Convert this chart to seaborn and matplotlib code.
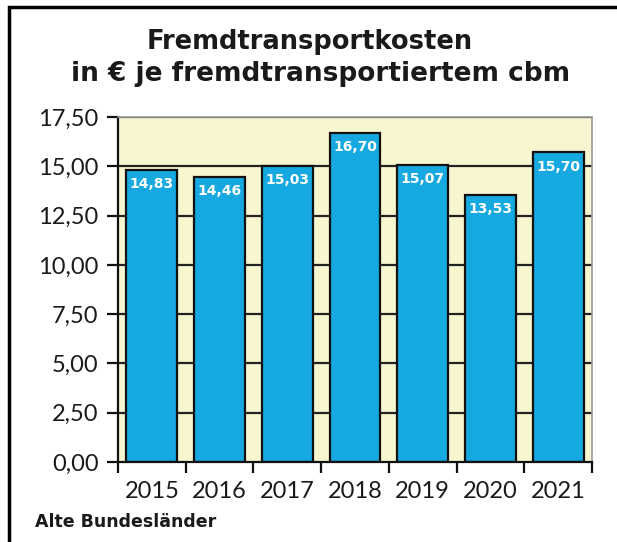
import matplotlib
matplotlib.use("Agg")
import matplotlib.pyplot as plt
import seaborn as sns
import pandas as pd
from matplotlib.patches import Rectangle

years = ["2015", "2016", "2017", "2018", "2019", "2020", "2021"]
values = [14.83, 14.46, 15.03, 16.70, 15.07, 13.53, 15.70]
value_labels = ["14,83", "14,46", "15,03", "16,70", "15,07", "13,53", "15,70"]
yticks = [0, 2.5, 5, 7.5, 10, 12.5, 15, 17.5]
ytick_labels = ["0,00", "2,50", "5,00", "7,50", "10,00", "12,50", "15,00", "17,50"]
title_lines = ["Fremdtransportkosten", "in € je fremdtransportiertem cbm"]
footnote = "Alte Bundesländer"

sns.set_theme(style="white")
plt.rcParams["font.family"] = ["Lato", "DejaVu Sans"]
bold_family = ["DejaVu Sans"]

df = pd.DataFrame({"year": years, "value": values})

fig = plt.figure(figsize=(6.17, 5.42), dpi=100)
ax = fig.add_axes([118/617, 80/542, (592-118)/617, (462-117)/542])
ax.set_facecolor("#F8F6CF")

for y in yticks[1:]:
    ax.axhline(y, color="#222222", lw=1.6, zorder=0.5)

sns.barplot(data=df, x="year", y="value", color="#16A8E0", saturation=1,
            width=0.75, edgecolor="#111111", linewidth=1.6, ax=ax, zorder=2)

for i, (v, lab) in enumerate(zip(values, value_labels)):
    ax.text(i, v - 0.36, lab, ha="center", va="top", color="white",
            fontsize=10, fontweight="bold", family=bold_family, zorder=3)

ax.set_ylim(0, 17.5)
ax.set_xlim(-0.5, 6.5)
ax.set_yticks(yticks)
ax.set_yticklabels(ytick_labels, fontsize=17, fontweight="normal", color="#1a1a1a")
ax.set_xticks(range(len(years)))
ax.set_xticklabels(years, fontsize=17, fontweight="normal", color="#1a1a1a")
ax.set_xticks([i - 0.5 for i in range(len(years) + 1)], minor=True)
ax.tick_params(axis="x", which="major", length=0, pad=14)
ax.tick_params(axis="x", which="minor", length=8, width=1.6, color="#111111", bottom=True)
ax.tick_params(axis="y", which="major", length=8, width=1.6, color="#111111", left=True, pad=6)
ax.set_xlabel("")
ax.set_ylabel("")

for s in ["left", "bottom"]:
    ax.spines[s].set_color("#111111")
    ax.spines[s].set_linewidth(1.6)
for s in ["top", "right"]:
    ax.spines[s].set_color("#999999")
    ax.spines[s].set_linewidth(1.2)

fig.text(310/617, 1 - 42/542, title_lines[0], ha="center", va="center",
         fontsize=18.5, fontweight="bold", family=bold_family, color="#1a1a1a")
fig.text(321/617, 1 - 74/542, title_lines[1], ha="center", va="center",
         fontsize=19, fontweight="bold", family=bold_family, color="#1a1a1a")
fig.text(35/617, 1 - 522/542, footnote, ha="left", va="center",
         fontsize=12.5, fontweight="bold", family=bold_family, color="#1a1a1a")

fig.patches.append(Rectangle((9/617, -0.05), 1.2, 1 - 7/542 + 0.05,
                             transform=fig.transFigure, fill=False,
                             edgecolor="black", linewidth=2.5))

fig.savefig("out.png", dpi=100)
